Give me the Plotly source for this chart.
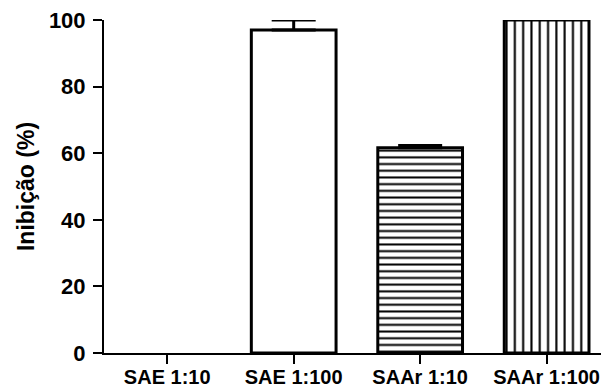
import plotly.graph_objects as go

# Inhibition (%) per sample; error shown as upper whisker only
categories = ["SAE 1:10", "SAE 1:100", "SAAr 1:10", "SAAr 1:100"]
inhibition = [0.0, 97.0, 61.6, 100.0]
err_categories = ["SAE 1:100", "SAAr 1:10"]
err_means = [97.0, 61.6]
err_upper = [3.0, 0.7]

y_ticks = [0, 20, 40, 60, 80, 100]

FONT = "Liberation Sans, Arial, sans-serif"

# zero-height bars are left undrawn (no outline along the baseline)
bar_heights = [v if v > 0 else None for v in inhibition]

fig = go.Figure()

fig.add_trace(go.Bar(
    x=categories,
    y=bar_heights,
    width=0.67,
    cliponaxis=False,
    marker=dict(
        color="white",
        line=dict(color="black", width=3),
        pattern=dict(
            shape=["", "", "-", "|"],
            fgcolor="black",
            size=[8, 8, 6.7, 8.3],
            solidity=[0.3, 0.3, 0.3, 0.25],
            fillmode="replace",
        ),
    ),
    showlegend=False,
))

fig.add_trace(go.Scatter(
    x=err_categories,
    y=err_means,
    mode="markers",
    marker=dict(size=0.1, color="black", opacity=0),
    cliponaxis=False,
    error_y=dict(
        type="data",
        symmetric=False,
        array=err_upper,
        arrayminus=[0] * len(err_upper),
        color="black",
        thickness=3,
        width=22,
    ),
    showlegend=False,
))

fig.update_layout(
    width=601,
    height=387,
    margin=dict(l=104, r=0, t=20, b=34),
    paper_bgcolor="white",
    plot_bgcolor="white",
    barmode="overlay",
    font=dict(family=FONT, color="black", weight="bold"),
    xaxis=dict(
        type="category",
        categoryorder="array",
        categoryarray=categories,
        range=[-0.5, 3.43],
        showline=True,
        linecolor="black",
        linewidth=2,
        ticks="outside",
        ticklen=9,
        tickwidth=2,
        tickcolor="black",
        showgrid=False,
        zeroline=False,
        tickfont=dict(family=FONT, size=20, weight="bold", color="black"),
        ticklabelstandoff=-4,
        automargin=False,
    ),
    yaxis=dict(
        range=[0, 100],
        tickvals=y_ticks,
        showline=True,
        linecolor="black",
        linewidth=2,
        ticks="outside",
        ticklen=9,
        tickwidth=2,
        tickcolor="black",
        showgrid=False,
        zeroline=False,
        tickfont=dict(family=FONT, size=22, weight="bold", color="black"),
        ticklabelstandoff=3,
        title=dict(text="Inibição (%)", font=dict(family=FONT, size=23, weight="bold", color="black"), standoff=8),
        automargin=False,
    ),
)

fig.write_html("out.html")
